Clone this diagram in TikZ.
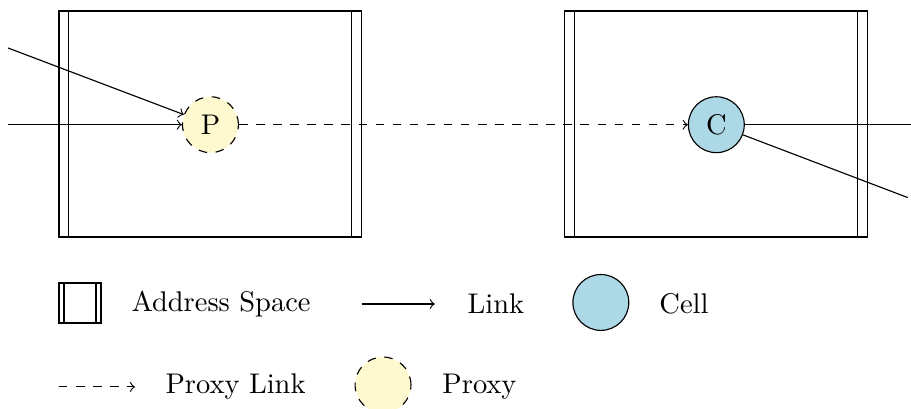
\documentclass[tikz,border=0pt]{standalone}
\usepackage{tikz}

\definecolor{cellblue}{RGB}{173,216,230}
\definecolor{proxyyellow}{RGB}{255,249,208}

% An address space is a box with a narrow bar on both sides:
% #1,#2 lower left corner, #3,#4 upper right corner, #5 bar width
\newcommand{\addressspace}[5]{%
    \draw (#1,#2) rectangle (#3,#4);
    \draw (#1+#5,#2) -- (#1+#5,#4);
    \draw (#3-#5,#2) -- (#3-#5,#4);
}

\tikzset{
    cell/.style={circle,draw,fill=cellblue,minimum size=0.69cm,inner sep=0pt},
    proxy/.style={cell,dashed,fill=proxyyellow},
    link/.style={->},
    proxylink/.style={->,dashed},
    legendtext/.style={anchor=west},
}

\begin{document}
\begin{tikzpicture}
    \useasboundingbox (0,0) rectangle (11.25,5.05);

    % The two address spaces:
    \addressspace{0.728}{2.123}{4.469}{4.914}{0.123}
    \addressspace{6.975}{2.123}{10.716}{4.914}{0.123}

    % The proxy sits in the first space, the cell in the second one
    \node [proxy] (P) at (2.599,3.51) {P};
    \node [cell]  (C) at (8.846,3.51) {C};

    % Loose ends of the links leave the picture on both sides
    \coordinate (in1) at (0.1,3.51);
    \coordinate (in2) at (0.1,4.457);
    \coordinate (out1) at (11.3,3.51);
    \coordinate (out2) at (11.21,2.61);

    \draw [link] (in1) -- (P);
    \draw [link] (in2) -- (P);
    \draw [proxylink] (P) -- (C);
    \draw (C) -- (out1);
    \draw (C) -- (out2);

    % Legend, first row:
    \addressspace{0.728}{1.062}{1.247}{1.556}{0.062}
    \node [legendtext] (lspace) at (1.50,1.30) {Address Space};
    \coordinate (lla) at (4.469,1.296);
    \coordinate (llb) at (5.370,1.296);
    \draw [link] (lla) -- (llb);
    \node [legendtext] (llink) at (5.65,1.30) {Link};
    \node [cell] (lcell) at (7.42,1.315) {};
    \node [legendtext] (lcelltext) at (8.02,1.30) {Cell};

    % Legend, second row:
    \coordinate (lpa) at (0.728,0.272);
    \coordinate (lpb) at (1.667,0.272);
    \draw [proxylink] (lpa) -- (lpb);
    \node [legendtext] (lplink) at (1.92,0.28) {Proxy Link};
    \node [proxy] (lproxy) at (4.73,0.296) {};
    \node [legendtext] (lproxytext) at (5.34,0.28) {Proxy};
\end{tikzpicture}
\end{document}
